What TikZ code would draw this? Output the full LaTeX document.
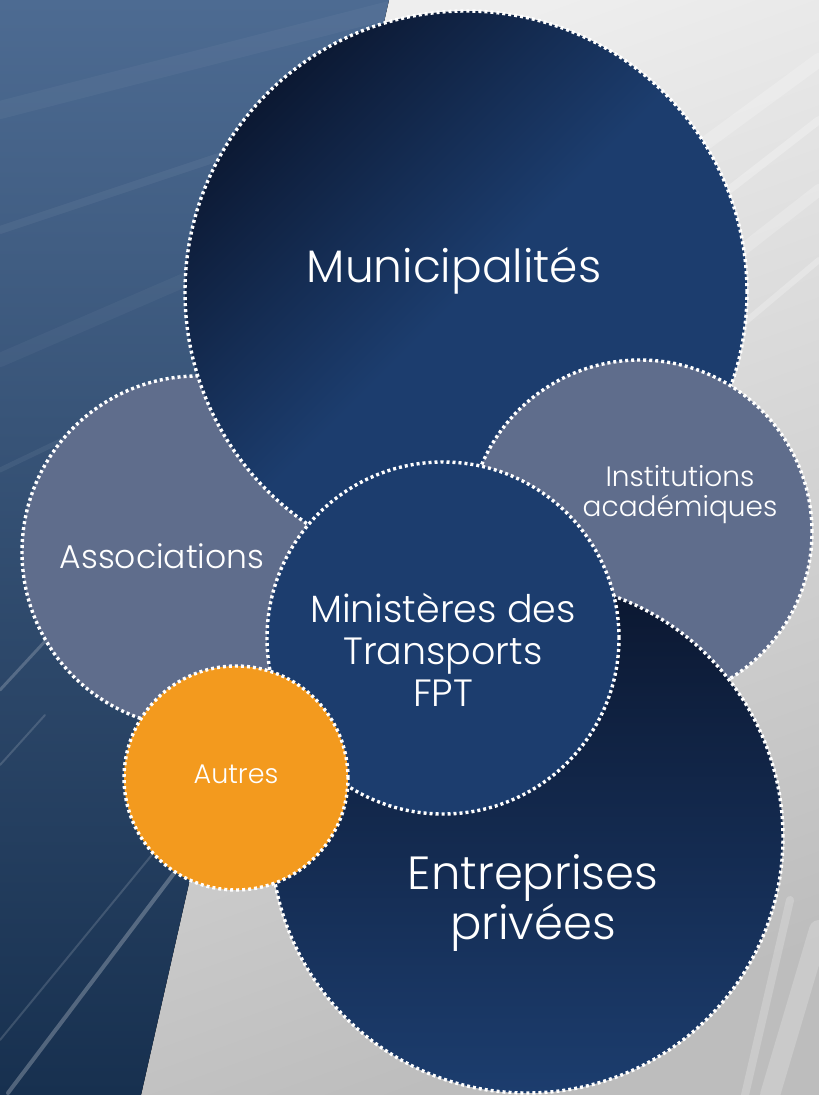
\documentclass[tikz,border=0pt]{standalone}
\usepackage{fontspec}
\setmainfont{Poppins Light}
\usetikzlibrary{calc,positioning}

\definecolor{SHnavy}{HTML}{1C3D6E}
\definecolor{SHdeep}{HTML}{0B1730}
\definecolor{SHslate}{HTML}{5F6D8C}
\definecolor{SHorange}{HTML}{F39A1E}
\definecolor{SHsteel}{HTML}{4D6B92}
\definecolor{SHmid}{HTML}{2F4E78}
\definecolor{SHdark}{HTML}{17304F}
\definecolor{SHgrey}{HTML}{BDBDBD}
\definecolor{SHlight}{HTML}{EEEEEE}

\pgfdeclarehorizontalshading{SHshadow}{100bp}{color(0bp)=(SHdeep); color(24bp)=(SHdeep);
  color(50bp)=(SHnavy); color(100bp)=(SHnavy)}

\tikzset{
  bubble/.style={circle, inner sep=0pt, draw=white, line width=3.4pt,
    dash pattern=on 3pt off 3pt},
  bubbletext/.style={text=white, inner sep=0pt, align=center},
  streak/.style={white, line cap=round}
}

\newcommand{\SHBubble}[4]{
  \node[bubble, minimum size=2*#3, #4] (#1) at #2 {};
}

\begin{document}
\begin{tikzpicture}[x=1pt,y=-1pt]
\useasboundingbox (0,0) rectangle (819,1095);

% background
\coordinate (bgtop) at (389,0);
\coordinate (bgbot) at (141,1095);
\fill[top color=SHlight, bottom color=SHgrey, shading angle=20]
  (bgtop) -- (819,0) -- (819,1095) -- (bgbot) -- cycle;
\begin{scope}
  \clip (bgtop) -- (819,0) -- (819,1095) -- (bgbot) -- cycle;
  \draw[streak, line width=14pt, opacity=.2] (819,60) -- (560,250);
  \draw[streak, line width=8pt, opacity=.25] (819,120) -- (600,290);
  \draw[streak, line width=12pt, opacity=.2] (819,190) -- (640,330);
  \draw[streak, line width=6pt, opacity=.25] (819,260) -- (700,360);
  \draw[streak, line width=20pt, opacity=.2] (819,930) -- (770,1095);
  \draw[streak, line width=8pt, opacity=.2] (790,900) -- (745,1095);
\end{scope}
\fill[top color=SHsteel, middle color=SHmid, bottom color=SHdark]
  (0,0) -- (bgtop) -- (bgbot) -- (0,1095) -- cycle;
\begin{scope}
  \clip (0,0) -- (bgtop) -- (bgbot) -- (0,1095) -- cycle;
  \draw[streak, line width=18pt, opacity=.04] (0,110) -- (390,10);
  \draw[streak, line width=8pt, opacity=.05] (0,230) -- (360,110);
  \draw[streak, line width=14pt, opacity=.04] (0,360) -- (300,230);
  \draw[streak, line width=5pt, opacity=.06] (0,470) -- (250,350);
  \draw[streak, line width=3pt, opacity=.2] (0,690) -- (60,625);
  \draw[streak, line width=2pt, opacity=.15] (0,765) -- (45,715);
  \draw[streak, line width=4pt, opacity=.25] (8,1093) -- (175,872);
  \draw[streak, line width=2pt, opacity=.15] (0,1040) -- (160,845);
\end{scope}

% circles, back to front
\SHBubble{assoc}{(198,552)}{176}{fill=SHslate}
\SHBubble{muni}{(466,292)}{281}{shade, shading=SHshadow, shading angle=-45}
\SHBubble{inst}{(640,532)}{172}{fill=SHslate}
\SHBubble{entr}{(527,837)}{256}{top color=SHdeep, middle color=SHnavy, bottom color=SHnavy}
\SHBubble{mini}{(443,638)}{176}{fill=SHnavy}
\SHBubble{autres}{(236,778)}{112}{fill=SHorange}

% labels
\node[bubbletext, anchor=base, font=\fontsize{45.5}{48}\selectfont] (munitext) at (454,282) {Municipalités};
\node[bubbletext, anchor=base, font=\fontsize{33}{36}\selectfont] (assoctext) at (162,568) {Associations};
\node[bubbletext, font=\fontsize{28}{30}\selectfont] (insttext) at (680,495) {Institutions\\académiques};
\node[bubbletext, font=\fontsize{38}{42}\selectfont] (minitext) at (443,650) {Ministères des\\Transports\\FPT};
\node[bubbletext, font=\fontsize{46.5}{50}\selectfont] (entrtext) at (533,903) {Entreprises\\privées};
\node[bubbletext, anchor=base, font=\fontsize{27}{28}\selectfont] (autrestext) at (236,783) {Autres};
\end{tikzpicture}
\end{document}
